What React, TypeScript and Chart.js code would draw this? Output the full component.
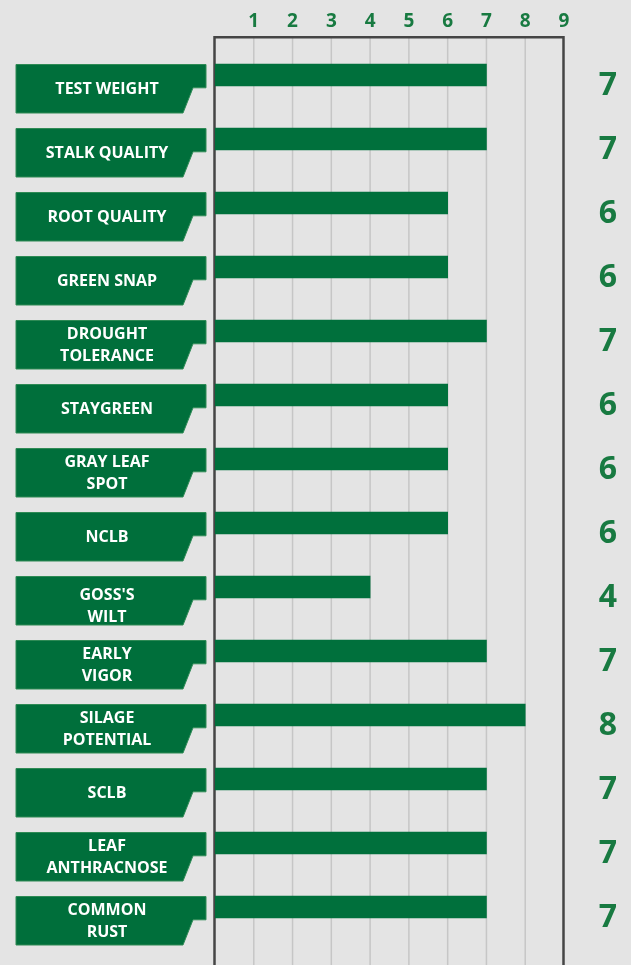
import React, { useEffect, useRef } from "react";
import { Chart, registerables } from "chart.js";

Chart.register(...registerables);

const categories: string[][] = [
  ["TEST WEIGHT"],
  ["STALK QUALITY"],
  ["ROOT QUALITY"],
  ["GREEN SNAP"],
  ["DROUGHT", "TOLERANCE"],
  ["STAYGREEN"],
  ["GRAY LEAF", "SPOT"],
  ["NCLB"],
  ["GOSS'S", "WILT"],
  ["EARLY", "VIGOR"],
  ["SILAGE", "POTENTIAL"],
  ["SCLB"],
  ["LEAF", "ANTHRACNOSE"],
  ["COMMON", "RUST"],
];

const ratings: number[] = [7, 7, 6, 6, 7, 6, 6, 6, 4, 7, 8, 7, 7, 7];

const xTickLabels: number[] = [1, 2, 3, 4, 5, 6, 7, 8, 9];

const W = 631;
const H = 965;
const BG = "#e4e4e4";
const GREEN = "#00703c";
const BOX_GREEN = "#006f3b";
const TEXT_GREEN = "#187a41";
const FRAME = "#454545";
const GRID = "#c6c6c6";
const FONT = "'Open Sans', 'Noto Sans', sans-serif";
// small vertical nudge of a label's text inside its box (style only)
const LABEL_NUDGE: Record<number, number> = { 8: 4.5 };

const decorPlugin = {
  id: "decor",
  beforeDraw(chart: any) {
    const { ctx } = chart;
    ctx.save();
    ctx.fillStyle = BG;
    ctx.fillRect(0, 0, chart.width, chart.height);
    ctx.restore();
  },
  beforeDatasetsDraw(chart: any) {
    const { ctx } = chart;
    const x = chart.scales.x;
    const top = 37.3;
    const bottom = chart.height;
    ctx.save();
    ctx.strokeStyle = GRID;
    ctx.lineWidth = 1.5;
    xTickLabels.forEach((t) => {
      if (t >= 9) return;
      const px = x.getPixelForValue(t);
      ctx.beginPath();
      ctx.moveTo(px, top);
      ctx.lineTo(px, bottom);
      ctx.stroke();
    });
    const l = x.getPixelForValue(0) - 0.5;
    const r = x.getPixelForValue(9) - 0.5;
    ctx.strokeStyle = FRAME;
    ctx.lineWidth = 2.5;
    ctx.beginPath();
    ctx.moveTo(l, bottom + 5);
    ctx.lineTo(l, top);
    ctx.lineTo(r, top);
    ctx.lineTo(r, bottom + 5);
    ctx.stroke();
    ctx.fillStyle = TEXT_GREEN;
    ctx.font = `bold 19px ${FONT}`;
    ctx.textAlign = "center";
    ctx.textBaseline = "alphabetic";
    xTickLabels.forEach((t) => {
      ctx.fillText(String(t), x.getPixelForValue(t), 26.7);
    });
    ctx.restore();
  },
  afterDraw(chart: any) {
    const { ctx } = chart;
    const y = chart.scales.y;
    ctx.save();
    categories.forEach((lines, i) => {
      const c = y.getPixelForValue(i);
      const top = c - 10.5;
      const notchY = c + 12.8;
      const bot = c + 38;
      ctx.beginPath();
      ctx.moveTo(16, top);
      ctx.lineTo(206, top);
      ctx.lineTo(206, notchY);
      ctx.lineTo(193, notchY);
      ctx.lineTo(183, bot);
      ctx.lineTo(16, bot);
      ctx.closePath();
      ctx.fillStyle = BOX_GREEN;
      ctx.fill();
      ctx.strokeStyle = "#2e8a55";
      ctx.lineWidth = 1;
      ctx.stroke();
      ctx.fillStyle = "#ffffff";
      ctx.font = `bold 16px ${FONT}`;
      ctx.textAlign = "center";
      ctx.textBaseline = "alphabetic";
      const cap = 16 * 0.714;
      const nudge = LABEL_NUDGE[i] || 0;
      if (lines.length === 1) {
        ctx.fillText(lines[0], 107, top + 24 + cap / 2);
      } else {
        ctx.fillText(lines[0], 107, top + 13 + nudge + cap / 2);
        ctx.fillText(lines[1], 107, top + 35 + nudge + cap / 2);
      }
      ctx.fillStyle = TEXT_GREEN;
      ctx.font = `bold 32px ${FONT}`;
      ctx.fillText(String(ratings[i]), 608, c + 8.5 + (32 * 0.714) / 2);
    });
    ctx.restore();
  },
};

export default function App() {
  const ref = useRef<HTMLCanvasElement | null>(null);
  useEffect(() => {
    document.body.style.margin = "0";
    document.body.style.background = BG;
    const canvas = ref.current!;
    const chart = new Chart(canvas, {
      type: "bar",
      data: {
        labels: categories,
        datasets: [
          {
            data: ratings,
            backgroundColor: GREEN,
            borderWidth: 0,
            barThickness: 22,
          },
        ],
      },
      options: {
        indexAxis: "y",
        responsive: false,
        animation: false,
        devicePixelRatio: 1,
        layout: { padding: { left: 215, right: W - 564, top: 43, bottom: H - 939 } },
        scales: {
          x: { type: "linear", min: 0, max: 9, display: false },
          y: { type: "category", display: false, offset: true },
        },
        plugins: {
          legend: { display: false },
          tooltip: { enabled: false },
        },
      },
      plugins: [decorPlugin],
    } as any);
    return () => chart.destroy();
  }, []);
  return <canvas ref={ref} width={W} height={H} style={{ display: "block" }} />;
}
